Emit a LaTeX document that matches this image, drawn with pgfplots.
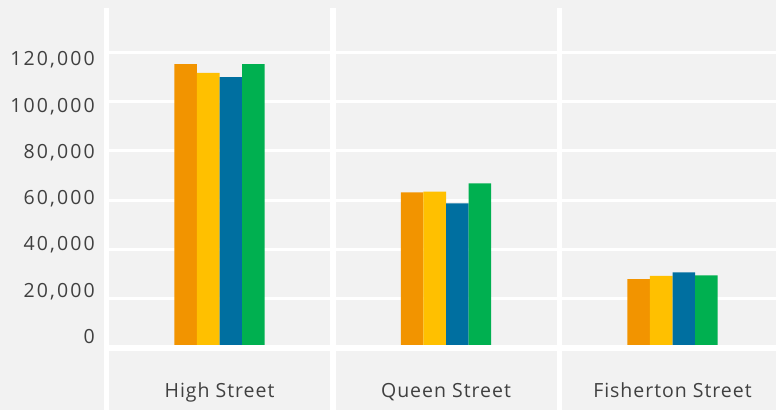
\documentclass[border=0pt]{standalone}
\usepackage{fontspec}
\setmainfont{Open Sans}
\newfontfamily\tickfont[LetterSpace=11]{Open Sans}
\newfontfamily\catfont[LetterSpace=5]{Open Sans}
\usepackage{pgfplots}
\pgfplotsset{compat=1.18}

\definecolor{bg}{HTML}{F2F2F2}
\definecolor{txt}{HTML}{404040}
\definecolor{cOrange}{HTML}{F29400}
\definecolor{cYellow}{HTML}{FFC000}
\definecolor{cBlue}{HTML}{006FA0}
\definecolor{cGreen}{HTML}{00B050}

\begin{document}
\begin{tikzpicture}
\fill[bg] (0,0) rectangle (776bp,410bp);
\begin{axis}[
  at={(106.3bp,0bp)}, anchor=south west,
  scale only axis,
  width=669.7bp, height=401.7bp,
  xmin=-0.5, xmax=2.457,
  ymin=-25203, ymax=137825,
  axis line style={draw=none},
  major tick length=0pt,
  xtick=\empty,
  ytick={0,20000,40000,60000,80000,100000,120000},
  yticklabels={},
  scaled y ticks=false,
  ymajorgrids,
  every axis y grid/.style={white, line width=3bp},
  ybar=0pt, bar width=22.6bp,
  clip=false,
]
% bars: High Street, Queen Street, Fisherton Street
\addplot[fill=cOrange, draw=none] coordinates {(0,115200) (1,63150) (2,27960)};
\addplot[fill=cYellow, draw=none] coordinates {(0,111570) (1,63390) (2,29180)};
\addplot[fill=cBlue,   draw=none] coordinates {(0,109940) (1,58690) (2,30680)};
\addplot[fill=cGreen,  draw=none] coordinates {(0,115200) (1,66800) (2,29460)};

% separators and baseline
\draw[white, line width=5.5bp] (axis cs:-0.5,0) -- (axis cs:2.457,0);
\draw[white, line width=5.5bp] (axis cs:-0.5,-25203) -- (axis cs:-0.5,137825);
\draw[white, line width=5.5bp] (axis cs:0.5,-25203) -- (axis cs:0.5,137825);
\draw[white, line width=5.5bp] (axis cs:1.5,-25203) -- (axis cs:1.5,137825);

% y tick labels
\tikzset{ylab/.style={anchor=base east, inner sep=0pt, xshift=-11.3bp, text=txt,
  font=\tickfont\fontsize{19.5bp}{23bp}\selectfont}}
\node[ylab] at (axis cs:-0.5,1867)   {0};
\node[ylab] at (axis cs:-0.5,20625)  {20,000};
\node[ylab] at (axis cs:-0.5,39383)  {40,000};
\node[ylab] at (axis cs:-0.5,58141)  {60,000};
\node[ylab] at (axis cs:-0.5,76899)  {80,000};
\node[ylab] at (axis cs:-0.5,95657)  {100,000};
\node[ylab] at (axis cs:-0.5,114415) {120,000};

% category labels
\tikzset{xlab/.style={anchor=base, inner sep=0pt, text=txt,
  font=\catfont\fontsize{19.5bp}{23bp}\selectfont}}
\node[xlab] at (axis cs:0,-20049) {High Street};
\node[xlab] at (axis cs:1,-20049) {Queen Street};
\node[xlab] at (axis cs:2,-20049) {Fisherton Street};
\end{axis}
\pgfresetboundingbox
\useasboundingbox (0,0) rectangle (776bp,410bp);
\end{tikzpicture}
\end{document}
